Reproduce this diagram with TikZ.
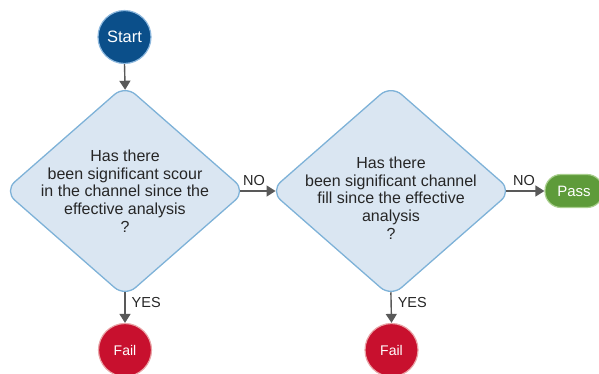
\documentclass[tikz,border=0pt]{standalone}
\usepackage{fontspec}
\setmainfont{Liberation Sans}
\usetikzlibrary{shapes.geometric,arrows.meta}

\definecolor{startblue}{HTML}{0B4F8A}
\definecolor{startrim}{HTML}{8DB8DE}
\definecolor{decfill}{HTML}{DAE6F2}
\definecolor{decrim}{HTML}{7EB2D8}
\definecolor{failred}{HTML}{C8102E}
\definecolor{failrim}{HTML}{E9A3A6}
\definecolor{passgreen}{HTML}{5E9B3A}
\definecolor{passrim}{HTML}{A9CF8E}
\definecolor{flowgray}{HTML}{595959}

\tikzset{
  terminal/.style={circle, draw=#1, line width=1.2pt, minimum size=53pt, inner sep=0pt,
    text=white, font=\fontsize{14}{16}\selectfont},
  % rounded tips sit about 6pt inside the sharp diamond corners
  decision/.style={diamond, draw=decrim, fill=decfill, line width=1.3pt,
    minimum width=242pt, minimum height=212pt, inner sep=0pt, rounded corners=14pt},
  question/.style={align=center, text=black!85, font=\fontsize{16}{17.7}\selectfont},
  passbox/.style={rectangle, rounded corners=16pt, draw=passrim, fill=passgreen, line width=1.2pt,
    minimum width=58pt, minimum height=33pt, text=white, font=\fontsize{15}{16}\selectfont},
  flow/.style={draw=flowgray, line width=1.4pt, -{Triangle[length=9pt,width=11pt]}},
  % connectors reach in from the sharp corner anchors to the rounded tips
  intotop/.style={shorten >=-5.4pt},
  intoside/.style={shorten >=-6.2pt},
  fromside/.style={shorten <=-6.2pt},
  frombottom/.style={shorten <=-5.4pt},
  branch/.style={font=\fontsize{14.5}{16}\selectfont, text=black!85, inner sep=0pt}
}

\begin{document}
\begin{tikzpicture}[x=1pt,y=-1pt]
  \useasboundingbox (0,0) rectangle (599,373);

  % terminals
  \node[terminal=startrim, fill=startblue, font=\fontsize{16.5}{18}\selectfont] (start) at (124.5,37) {Start};
  \node[terminal=failrim, fill=failred] (fail1) at (125,350) {Fail};
  \node[terminal=failrim, fill=failred] (fail2) at (391.5,350) {Fail};
  \node[passbox] (pass) at (574,191) {Pass};

  % decisions
  \node[decision] (d1) at (125,191) {};
  \node[question] at (125,191) {Has there\\been significant scour\\in the channel since the\\effective analysis\\?};
  \node[decision] (d2) at (391,191) {};
  \node[question] at (391,198) {Has there\\been significant channel\\fill since the effective\\analysis\\?};

  % connectors
  \draw[flow, intotop] (start.south) -- (d1.north);
  \draw[flow, fromside, intoside] (d1.east) -- node[branch, above=5pt, pos=0.32] {NO} (d2.west);
  \draw[flow, fromside] (d2.east) -- node[branch, above=5pt, pos=0.36] {NO} (pass.west);
  \draw[flow, frombottom] (d1.south) -- node[branch, right=6pt, pos=0.2] {YES} (fail1.north);
  \draw[flow, frombottom] (d2.south) -- node[branch, right=6pt, pos=0.2] {YES} (fail2.north);
\end{tikzpicture}
\end{document}
